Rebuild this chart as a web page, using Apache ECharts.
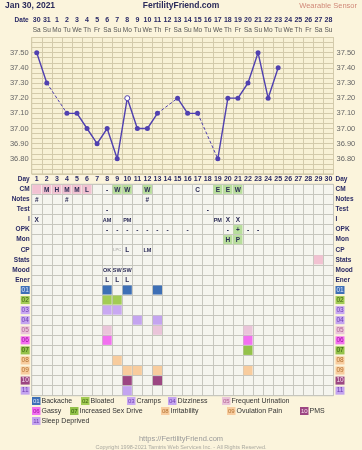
<!DOCTYPE html>
<html><head><meta charset="utf-8">
<script src="https://cdn.jsdelivr.net/npm/echarts@6/dist/echarts.min.js"></script>
<style>html,body{margin:0;padding:0;background:#fbf4dc}#c{width:362px;height:450px}</style>
</head><body><div id="c"></div>
<script>
// ---------- DATA ----------
const dayNumbers = ['1','2','3','4','5','6','7','8','9','10','11','12','13','14','15','16','17','18','19','20','21','22','23','24','25','26','27','28','29','30'];
const dateLabels = ['30','31','1','2','3','4','5','6','7','8','9','10','11','12','13','14','15','16','17','18','19','20','21','22','23','24','25','26','27','28'];
const weekdayLabels = ['Sa','Su','Mo','Tu','We','Th','Fr','Sa','Su','Mo','Tu','We','Th','Fr','Sa','Su','Mo','Tu','We','Th','Fr','Sa','Su','Mo','Tu','We','Th','Fr','Sa','Su'];
const temperatures = [37.50,37.30,null,37.10,37.10,37.00,36.90,37.00,36.80,37.20,37.00,37.00,37.10,null,37.20,37.10,37.10,null,36.80,37.20,37.20,37.30,37.50,37.20,37.40,null,null,null,null,null];
const openPointDays = [10];
const tableRows = ['CM','Notes','Test','I','OPK','Mon','CP','Stats','Mood','Ener','01','02','03','04','05','06','07','08','09','10','11'];
const symptomCodes = ['01','02','03','04','05','06','07','08','09','10','11'];
const symptomNames = ['Backache','Bloated','Cramps','Dizziness','Frequent Urination','Gassy','Increased Sex Drive','Irritability','Ovulation Pain','PMS','Sleep Deprived'];
const symptomDays = [[8,10,13],[8,9],[8,9],[11,13],[8,13,22],[8,22],[22],[9],[10,11,13,22],[10,13],[10]];
const pinkCells = [['CM',1],['CM',2],['CM',3],['CM',4],['CM',5],['CM',6],['Stats',29]];
const greenCells = [['CM',9],['CM',10],['CM',12],['CM',19],['CM',20],['CM',21],['OPK',21],['Mon',20],['Mon',21]];
const cellTexts = [
  ['CM',2,'M'],['CM',3,'H'],['CM',4,'M'],['CM',5,'M'],['CM',6,'L'],['CM',8,'-'],['CM',9,'W'],['CM',10,'W'],['CM',12,'W'],['CM',17,'C'],['CM',19,'E'],['CM',20,'E'],['CM',21,'W'],
  ['Notes',1,'#'],['Notes',4,'#'],['Notes',12,'#'],
  ['Test',8,'-'],['Test',18,'-'],
  ['I',1,'X'],['I',8,'AM'],['I',10,'PM'],['I',19,'PM'],['I',20,'X'],['I',21,'X'],
  ['OPK',8,'-'],['OPK',9,'-'],['OPK',10,'-'],['OPK',11,'-'],['OPK',12,'-'],['OPK',13,'-'],['OPK',14,'-'],['OPK',16,'-'],['OPK',20,'-'],['OPK',21,'+'],['OPK',22,'-'],['OPK',23,'-'],
  ['Mon',20,'H'],['Mon',21,'P'],
  ['CP',9,'LPC'],['CP',10,'L'],['CP',12,'LM'],
  ['Mood',8,'OK'],['Mood',9,'SW'],['Mood',10,'SW'],
  ['Ener',8,'L'],['Ener',9,'L'],['Ener',10,'L']
];

// ---------- STYLE ----------
const FONT = 'Liberation Sans, Arial, sans-serif';
const LINE = '#5040b0';
const NAVY = '#2a2a66';
const PINK = '#f2c2d2', GREEN = '#b8de9c';
const symptomColors = ['#3d6fb6','#a3cc55','#c9a8f2','#c4a4f0','#eac4da','#f270f0','#94c24a','#f8cc9e','#f8cc9e','#9c4682','#c4a4f0'];
const symptomTextColors = ['#dfe8ff','#3c6010','#7040b0','#7040b0','#b06090','#a010a0','#2c5a0a','#b07030','#b07030','#f6e0f0','#7040b0'];
const legendX = [32,81,127,168,222,32,70,161,227,300,32];
const legendY = [401,401,401,401,401,411,411,411,411,411,421];

const GL = 31.7, GW = 301.8;

// ---------- BUILD ----------
const lineData = temperatures.map((t,i) => {
  if (t === null) return null;
  if (openPointDays.includes(i+1)) return {value:t, itemStyle:{color:'#ffffff', borderColor:LINE, borderWidth:1}};
  return t;
});
const dashedSeries = [];
for (let i = 0; i < temperatures.length; i++) {
  if (temperatures[i] !== null && temperatures[i+1] === null) {
    let j = i+1;
    while (j < temperatures.length && temperatures[j] === null) j++;
    if (j < temperatures.length) {
      dashedSeries.push({type:'line', xAxisIndex:0, yAxisIndex:0, data:[[i,temperatures[i]],[j,temperatures[j]]],
        symbol:'none', silent:true, z:1, lineStyle:{color:LINE, width:1, type:[3,2]}});
    }
  }
}
const cellFills = [];
pinkCells.forEach(c => cellFills.push({row:c[0], day:c[1], color:PINK}));
greenCells.forEach(c => cellFills.push({row:c[0], day:c[1], color:GREEN}));
symptomDays.forEach((days,k) => days.forEach(d => cellFills.push({row:symptomCodes[k], day:d, color:symptomColors[k]})));

const rich = {};
symptomCodes.forEach((c,k) => { rich['s'+k] = {backgroundColor:symptomColors[k], color:symptomTextColors[k], fontSize:6.5, fontFamily:FONT, width:9, height:8, lineHeight:8, align:'center'}; });
rich.t = {color:NAVY, fontSize:6.5, fontWeight:'bold', fontFamily:FONT};
const rowLabel = v => { const k = symptomCodes.indexOf(v); return k >= 0 ? '{s'+k+'|'+v+'}' : '{t|'+v+'}'; };

const tempLabel = v => (v < 36.75 || v > 37.55) ? '' : v.toFixed(2);

const graphic = [];
symptomNames.forEach((n,k) => {
  const bx = legendX[k], by = legendY[k];
  graphic.push({type:'rect', shape:{x:bx, y:by-4, width:8.5, height:8}, style:{fill:symptomColors[k]}});
  graphic.push({type:'text', x:bx+4.25, y:by, style:{text:symptomCodes[k], align:'center', verticalAlign:'middle', fontSize:6, fontFamily:FONT, fill:symptomTextColors[k]}});
  graphic.push({type:'text', x:bx+9.5, y:by, style:{text:n, verticalAlign:'middle', fontSize:7, fontFamily:FONT, fill:'#333'}});
});

const chart = echarts.init(document.getElementById('c'), null, {renderer:'canvas'});
chart.setOption({
  animation:false,
  backgroundColor:'#fbf4dc',
  textStyle:{fontFamily:FONT},
  title:[
    {text:'Jan 30, 2021', left:5, top:1, padding:0, textStyle:{fontSize:8.5, fontWeight:'bold', color:'#2a2a5a', fontFamily:FONT}},
    {text:'FertilityFriend.com', left:'center', top:1, padding:0, textStyle:{fontSize:8.5, fontWeight:'bold', color:'#2a2a5a', fontFamily:FONT}},
    {text:'Wearable Sensor', right:5, top:2, padding:0, textStyle:{fontSize:7.5, fontWeight:'normal', color:'#d08878', fontFamily:FONT}},
    {text:'https://FertilityFriend.com', left:'center', top:435, padding:0, textStyle:{fontSize:7.5, fontWeight:'normal', color:'#9a9a9a', fontFamily:FONT}},
    {text:'Copyright 1998-2021 Tamtris Web Services Inc. - All Rights Reserved.', left:'center', top:444, padding:0, textStyle:{fontSize:5.5, fontWeight:'normal', color:'#aaa9a0', fontFamily:FONT}}
  ],
  grid:[
    {left:GL, top:37.5, width:GW, height:136.5, show:true, backgroundColor:'#f8f1d6', borderColor:'#cbc2a2', borderWidth:1},
    {left:GL, top:184.3, width:GW, height:211.4, show:true, backgroundColor:'#f5f5ef', borderColor:'#bdbdb5', borderWidth:1}
  ],
  xAxis:[
    {gridIndex:0, type:'category', data:dayNumbers, position:'bottom', axisLabel:{show:false}, axisTick:{show:false}, axisLine:{show:false},
      splitLine:{show:true, interval:0, lineStyle:{color:'#d3caab', width:1}}},
    {gridIndex:0, type:'category', data:weekdayLabels, position:'top', offset:7.5, axisTick:{show:false}, axisLine:{show:false},
      axisLabel:{interval:0, margin:0, verticalAlign:'middle', fontSize:6.5, color:'#555', fontFamily:FONT}},
    {gridIndex:0, type:'category', data:dateLabels, position:'top', offset:17.5, axisTick:{show:false}, axisLine:{show:false},
      axisLabel:{interval:0, margin:0, verticalAlign:'middle', fontSize:7, fontWeight:'bold', color:NAVY, fontFamily:FONT},
      name:'Date', nameLocation:'start', nameGap:3, nameTextStyle:{fontSize:6.5, fontWeight:'bold', color:NAVY, fontFamily:FONT, verticalAlign:'middle'}},
    {gridIndex:1, type:'category', data:dayNumbers, position:'top', offset:4.8, axisTick:{show:false}, axisLine:{show:false},
      axisLabel:{interval:0, margin:0, verticalAlign:'middle', fontSize:7, fontWeight:'bold', color:NAVY, fontFamily:FONT},
      splitLine:{show:true, interval:0, lineStyle:{color:'#c6c6be', width:1}},
      name:'Day', nameLocation:'start', nameGap:2, nameTextStyle:{fontSize:6.5, fontWeight:'bold', color:NAVY, fontFamily:FONT, verticalAlign:'middle'}},
    {gridIndex:1, type:'category', data:dayNumbers, position:'top', offset:4.8, axisTick:{show:false}, axisLine:{show:false}, axisLabel:{show:false},
      name:'Day', nameLocation:'end', nameGap:2, nameTextStyle:{fontSize:6.5, fontWeight:'bold', color:NAVY, fontFamily:FONT, verticalAlign:'middle'}}
  ],
  yAxis:[
    {gridIndex:0, type:'value', min:36.7, max:37.6, interval:0.1, position:'left', axisLine:{show:false}, axisTick:{show:false},
      axisLabel:{formatter:tempLabel, margin:3, fontSize:7.5, color:'#666', fontFamily:FONT},
      splitLine:{show:true, lineStyle:{color:'#d3caab', width:1}},
      minorTick:{show:false, splitNumber:3}, minorSplitLine:{show:true, lineStyle:{color:'#d3caab', width:1}}},
    {gridIndex:0, type:'value', min:36.7, max:37.6, interval:0.1, position:'right', axisLine:{show:false}, axisTick:{show:false},
      axisLabel:{formatter:tempLabel, margin:3, fontSize:7.5, color:'#666', fontFamily:FONT}, splitLine:{show:false}},
    {gridIndex:1, type:'category', data:tableRows, inverse:true, position:'left', axisLine:{show:false}, axisTick:{show:false},
      axisLabel:{interval:0, margin:2, formatter:rowLabel, rich:rich},
      splitLine:{show:true, interval:0, lineStyle:{color:'#c6c6be', width:1}}},
    {gridIndex:1, type:'category', data:tableRows, inverse:true, position:'right', axisLine:{show:false}, axisTick:{show:false},
      axisLabel:{interval:0, margin:2, formatter:rowLabel, rich:rich, align:'left'}}
  ],
  series:[
    {type:'line', xAxisIndex:0, yAxisIndex:0, data:lineData, connectNulls:false, symbol:'circle', symbolSize:5, z:3,
      lineStyle:{color:LINE, width:1.4}, itemStyle:{color:LINE}},
    ...dashedSeries,
    {type:'custom', xAxisIndex:3, yAxisIndex:2, coordinateSystem:'cartesian2d', silent:true,
      data:cellFills.map(c => [c.day-1, tableRows.indexOf(c.row)]),
      encode:{x:0, y:1},
      renderItem:(params, api) => {
        const f = cellFills[params.dataIndex];
        const p = api.coord([api.value(0), api.value(1)]);
        const s = api.size([1,1]);
        return {type:'rect', shape:{x:p[0]-s[0]/2+0.5, y:p[1]-s[1]/2+0.5, width:s[0]-1, height:s[1]-1}, style:{fill:f.color}};
      }},
    {type:'custom', xAxisIndex:3, yAxisIndex:2, coordinateSystem:'cartesian2d', silent:true, z:4,
      data:cellTexts.map(t => [t[1]-1, tableRows.indexOf(t[0])]),
      encode:{x:0, y:1},
      renderItem:(params, api) => {
        const t = cellTexts[params.dataIndex];
        const p = api.coord([api.value(0), api.value(1)]);
        const len = t[2].length;
        const fs = len >= 3 ? 4 : (len === 2 ? 5.5 : 6.5);
        return {type:'text', x:p[0], y:p[1]+0.5, style:{text:t[2], align:'center', verticalAlign:'middle',
          fontSize: fs, fontWeight: len >= 3 ? 'normal' : 'bold', fontFamily:FONT, fill: len >= 3 ? '#999' : '#2a2a55'}};
      }}
  ],
  graphic:graphic
});
</script></body></html>
